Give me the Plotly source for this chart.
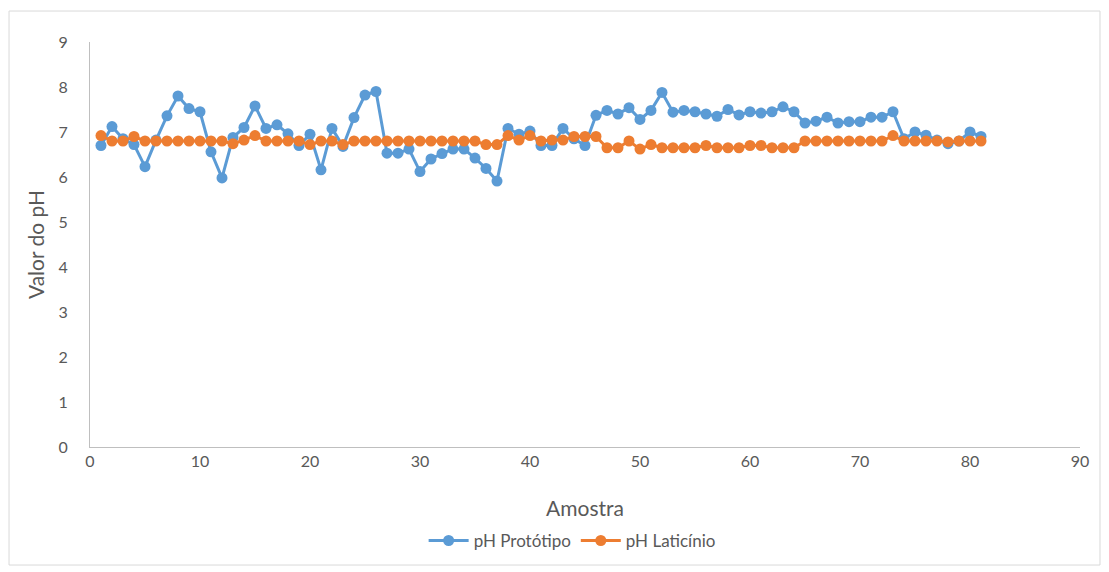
import plotly.graph_objects as go

amostra = list(range(1, 82))

ph_prototipo = [
    6.70, 7.12, 6.85, 6.72, 6.23, 6.82, 7.36, 7.80, 7.52, 7.45,
    6.56, 5.98, 6.88, 7.10, 7.58, 7.08, 7.16, 6.96, 6.70, 6.95,
    6.16, 7.08, 6.68, 7.32, 7.82, 7.90, 6.53, 6.53, 6.62, 6.12,
    6.40, 6.52, 6.62, 6.62, 6.42, 6.19, 5.91, 7.08, 6.95, 7.02,
    6.70, 6.70, 7.08, 6.85, 6.70, 7.37, 7.48, 7.40, 7.54, 7.28,
    7.48, 7.88, 7.44, 7.48, 7.45, 7.40, 7.35, 7.50, 7.38, 7.45,
    7.42, 7.45, 7.56, 7.45, 7.20, 7.24, 7.33, 7.20, 7.23, 7.23,
    7.33, 7.33, 7.45, 6.85, 7.00, 6.93, 6.82, 6.74, 6.80, 7.00,
    6.90,
]

ph_laticinio = [
    6.92, 6.80, 6.80, 6.90, 6.80, 6.80, 6.80, 6.80, 6.80, 6.80,
    6.80, 6.80, 6.74, 6.82, 6.92, 6.80, 6.80, 6.80, 6.80, 6.72,
    6.80, 6.80, 6.72, 6.80, 6.80, 6.80, 6.80, 6.80, 6.80, 6.80,
    6.80, 6.80, 6.80, 6.80, 6.80, 6.72, 6.72, 6.92, 6.82, 6.92,
    6.80, 6.82, 6.82, 6.90, 6.90, 6.90, 6.65, 6.65, 6.80, 6.62,
    6.72, 6.65, 6.65, 6.65, 6.65, 6.70, 6.65, 6.65, 6.65, 6.70,
    6.70, 6.65, 6.65, 6.65, 6.80, 6.80, 6.80, 6.80, 6.80, 6.80,
    6.80, 6.80, 6.92, 6.80, 6.80, 6.80, 6.80, 6.78, 6.80, 6.80,
    6.80,
]

x_ticks = [0, 10, 20, 30, 40, 50, 60, 70, 80, 90]
y_ticks = [0, 1, 2, 3, 4, 5, 6, 7, 8, 9]

FONT = "Lato, Liberation Sans, sans-serif"
TXT = "#595959"

fig = go.Figure()
fig.add_trace(go.Scatter(
    x=amostra, y=ph_prototipo, name="pH Protótipo", mode="lines+markers",
    line=dict(color="#5B9BD5", width=3),
    marker=dict(color="#5B9BD5", size=11),
))
fig.add_trace(go.Scatter(
    x=amostra, y=ph_laticinio, name="pH Laticínio", mode="lines+markers",
    line=dict(color="#ED7D31", width=3),
    marker=dict(color="#ED7D31", size=11),
))

fig.update_layout(
    width=1109, height=572,
    margin=dict(l=90, r=29, t=42, b=125),
    paper_bgcolor="white", plot_bgcolor="white",
    font=dict(family=FONT, color=TXT, size=16),
    showlegend=True,
    legend=dict(orientation="h", x=0.487, xanchor="center", y=-0.232, yanchor="middle",
                font=dict(size=17, color=TXT), itemwidth=40, tracegroupgap=0),
    xaxis=dict(
        range=[0, 90], tickvals=x_ticks, showgrid=False, zeroline=False,
        showline=True, linecolor="#bfbfbf", linewidth=1,
        ticks="", tickfont=dict(size=16, color=TXT),
        title=dict(text="Amostra", font=dict(size=21, color=TXT), standoff=32),
    ),
    yaxis=dict(
        range=[0, 9], tickvals=y_ticks, showgrid=False, zeroline=False,
        showline=True, linecolor="#bfbfbf", linewidth=1,
        ticks="", tickfont=dict(size=16, color=TXT), ticklabelstandoff=18,
        title=dict(text="Valor do pH", font=dict(size=21, color=TXT), standoff=8),
    ),
    shapes=[dict(type="rect", xref="paper", yref="paper",
                 x0=-0.0818, x1=1.0202, y0=-0.2914, y1=1.0765,
                 line=dict(color="#d9d9d9", width=1), fillcolor="rgba(0,0,0,0)",
                 layer="below")],
)

fig.write_html("out.html")
